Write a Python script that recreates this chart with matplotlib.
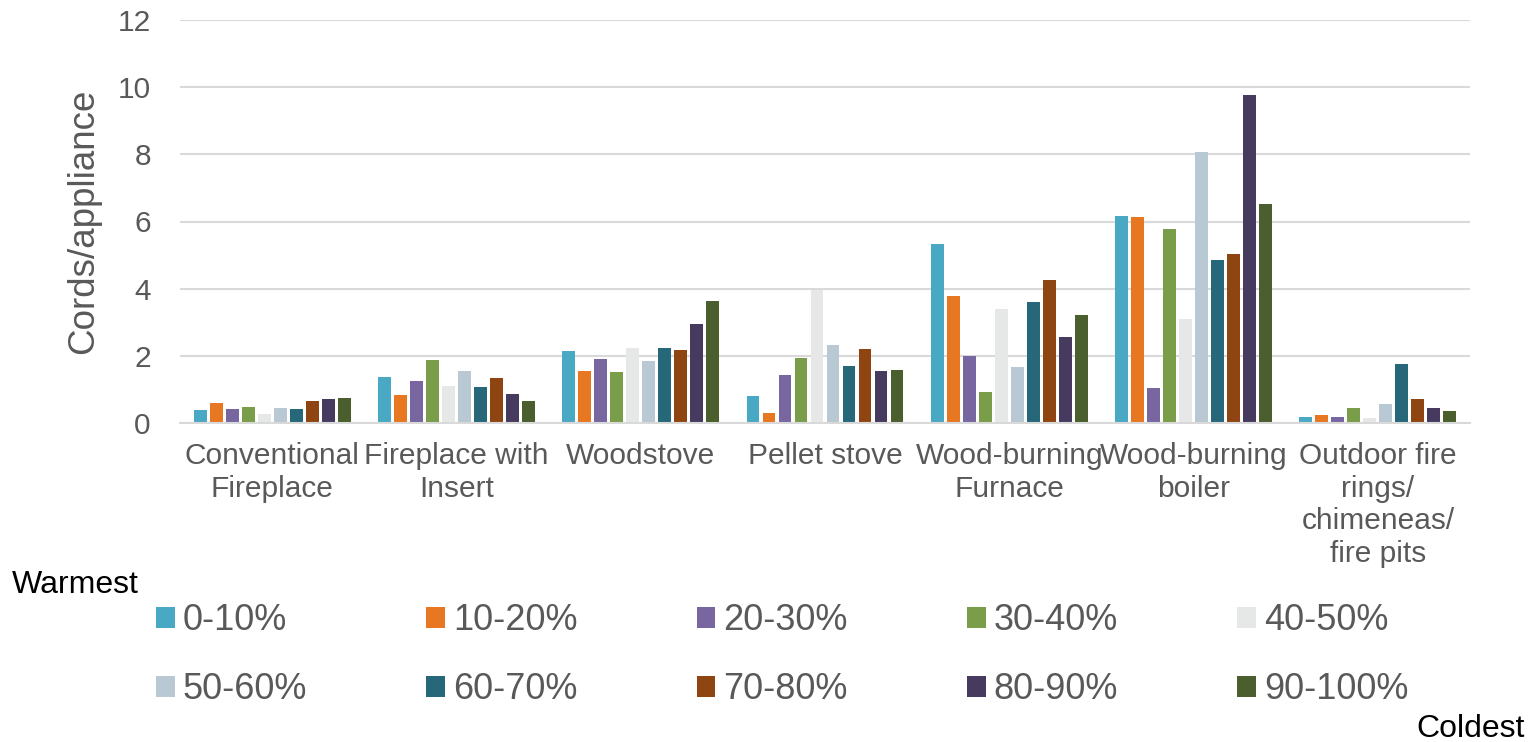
import numpy as np
import matplotlib.pyplot as plt

plt.rcParams['font.family'] = ['Liberation Sans', 'DejaVu Sans']

appliances = ["Conventional\nFireplace", "Fireplace with\nInsert", "Woodstove",
              "Pellet stove", "Wood-burning\nFurnace", "Wood-burning\nboiler",
              "Outdoor fire\nrings/\nchimeneas/\nfire pits"]
deciles = ['0-10%', '10-20%', '20-30%', '30-40%', '40-50%',
           '50-60%', '60-70%', '70-80%', '80-90%', '90-100%']
colors = ['#49A9C5', '#E87722', '#7866A0', '#7A9D4A', '#E6E8E8',
          '#B8C9D3', '#26687A', '#8F4511', '#463A5F', '#4A5E2E']

# cords per appliance, one list per appliance, warmest -> coldest
conventional = [0.38, 0.60, 0.43, 0.47, 0.27, 0.45, 0.42, 0.66, 0.70, 0.74]
insert = [1.36, 0.82, 1.26, 1.89, 1.11, 1.56, 1.08, 1.34, 0.85, 0.66]
woodstove = [2.15, 1.56, 1.90, 1.52, 2.22, 1.86, 2.22, 2.18, 2.96, 3.62]
pellet = [0.81, 0.30, 1.43, 1.93, 3.97, 2.31, 1.71, 2.19, 1.54, 1.57]
furnace = [5.32, 3.79, 2.00, 0.93, 3.40, 1.67, 3.61, 4.27, 2.55, 3.22]
boiler = [6.17, 6.13, 1.05, 5.78, 3.11, 8.07, 4.84, 5.02, 9.78, 6.51]
outdoor = [0.17, 0.25, 0.19, 0.44, 0.15, 0.57, 1.77, 0.70, 0.45, 0.36]

data = np.array([conventional, insert, woodstove, pellet, furnace, boiler, outdoor])

fig = plt.figure(figsize=(15.32, 7.42), dpi=100)
ax = fig.add_axes([180/1532, 1 - 423/742, 1290/1532, 403/742])

x = np.arange(len(appliances))
slot = 0.0868
bars = []
for j in range(len(deciles)):
    b = ax.bar(x + (j - 4.5)*slot, data[:, j], width=0.07, color=colors[j],
               label=deciles[j], zorder=2)
    bars.append(b)

ax.set_xlim(-0.5, len(appliances) - 0.5)
ax.set_ylim(0, 12)
ax.set_yticks(range(0, 13, 2))
ax.set_xticks(x)
ax.set_xticklabels(appliances)
ax.yaxis.grid(True, color='#D9D9D9', linewidth=1.5)
ax.set_axisbelow(True)
for s in ['top', 'right', 'left']:
    ax.spines[s].set_visible(False)
ax.spines['bottom'].set_color('#D9D9D9')
ax.spines['bottom'].set_linewidth(1.5)
ax.tick_params(axis='both', length=0, labelsize=21.5, labelcolor='#595959')
ax.tick_params(axis='y', pad=21)
ax.tick_params(axis='x', pad=14)
ax.set_ylabel("Cords/appliance", fontsize=26.5, color='#595959', labelpad=12)

# reorder so the legend fills row by row
order = [0, 5, 1, 6, 2, 7, 3, 8, 4, 9]
fig.legend([bars[i] for i in order], [deciles[i] for i in order], ncol=5,
           frameon=False, fontsize=26, labelcolor='#595959',
           handlelength=0.52, handleheight=0.52, handletextpad=0.22,
           columnspacing=3.3, labelspacing=0.95, borderpad=0, borderaxespad=0,
           loc='upper left', bbox_to_anchor=(156/1532, 1 - 603/742))

fig.text(12/1532, 1 - 593/742, "Warmest", fontsize=23, va='baseline')
fig.text(1525/1532, 1 - 737/742, "Coldest", fontsize=23, ha='right', va='baseline')

plt.savefig("out.png", dpi=100)
